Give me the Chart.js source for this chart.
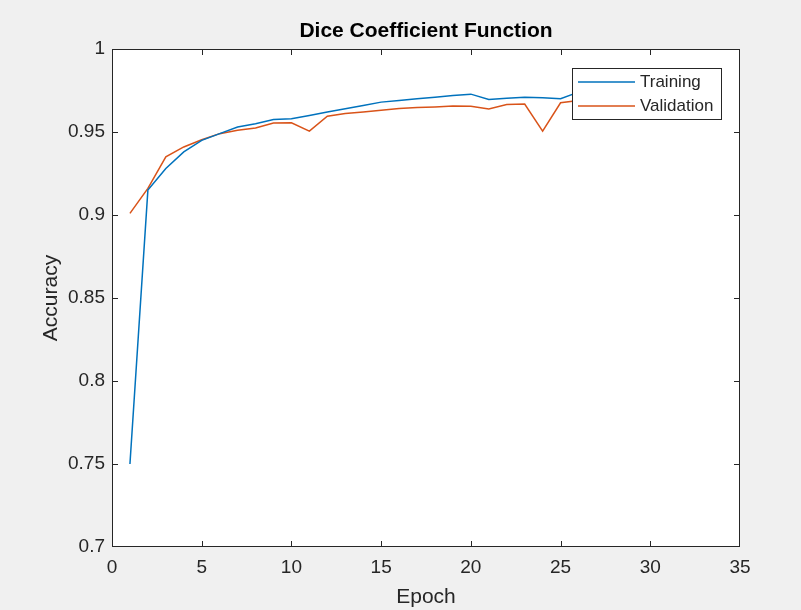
<!DOCTYPE html>
<html>
<head>
<meta charset="utf-8">
<script src="https://cdn.jsdelivr.net/npm/chart.js@4.4.1/dist/chart.umd.min.js"></script>
<style>
  html, body { margin: 0; padding: 0; background: #f0f0f0; }
  canvas { display: block; }
</style>
</head>
<body>
<canvas id="dice" width="801" height="610"></canvas>
<script>
const epochs = [1, 2, 3, 4, 5, 6, 7, 8, 9, 10, 11, 12, 13, 14, 15, 16, 17, 18, 19, 20, 21, 22, 23, 24, 25, 26];
const training = [0.750, 0.915, 0.928, 0.938, 0.945, 0.949, 0.953, 0.955, 0.9575, 0.958, 0.960, 0.962, 0.964,
                  0.966, 0.968, 0.969, 0.970, 0.971, 0.972, 0.9728, 0.9696, 0.9704, 0.971, 0.9706, 0.970, 0.974];
const validation = [0.901, 0.916, 0.935, 0.941, 0.9453, 0.949, 0.951, 0.9524, 0.9554, 0.9556, 0.9505, 0.9595, 0.9611,
                    0.9621, 0.9631, 0.9641, 0.9647, 0.9651, 0.9657, 0.9655, 0.9639, 0.9666, 0.9668, 0.9505, 0.9676, 0.969];
const xTicks = [0, 5, 10, 15, 20, 25, 30, 35];
const yTicks = [0.7, 0.75, 0.8, 0.85, 0.9, 0.95, 1];
const seriesNames = ['Training', 'Validation'];
const seriesColors = ['#0072bd', '#d95319'];

const FONT = "'Liberation Sans', Arial, Helvetica, sans-serif";
const INK = '#262626';

// MATLAB-like figure: grey background, boxed axes with inward ticks, title and legend
const matlabAxes = {
    id: 'matlabAxes',
    beforeDraw(chart) {
        const { ctx, chartArea: a } = chart;
        ctx.save();
        ctx.fillStyle = '#f0f0f0';
        ctx.fillRect(0, 0, chart.width, chart.height);
        ctx.fillStyle = '#ffffff';
        ctx.fillRect(a.left, a.top, a.right - a.left, a.bottom - a.top);
        ctx.restore();
    },
    afterDatasetsDraw(chart) {
        const { ctx, chartArea: a, scales: { x, y } } = chart;
        const tick = 6;
        ctx.save();
        ctx.strokeStyle = INK;
        ctx.lineWidth = 1;
        ctx.strokeRect(a.left + 0.5, a.top + 0.5, a.right - a.left - 1, a.bottom - a.top - 1);
        ctx.beginPath();
        // inner ticks only, the end ones sit on the box itself
        x.ticks.slice(1, -1).forEach(t => {
            const px = Math.round(x.getPixelForValue(t.value)) + 0.5;
            ctx.moveTo(px, a.bottom); ctx.lineTo(px, a.bottom - tick);
            ctx.moveTo(px, a.top); ctx.lineTo(px, a.top + tick);
        });
        y.ticks.slice(1, -1).forEach(t => {
            const py = Math.round(y.getPixelForValue(t.value)) + 0.5;
            ctx.moveTo(a.left, py); ctx.lineTo(a.left + tick, py);
            ctx.moveTo(a.right, py); ctx.lineTo(a.right - tick, py);
        });
        ctx.stroke();

        // title
        ctx.fillStyle = '#000000';
        ctx.font = 'bold 21px ' + FONT;
        ctx.textAlign = 'center';
        ctx.textBaseline = 'middle';
        ctx.fillText('Dice Coefficient Function', (a.left + a.right) / 2, 31);

        // legend
        const bx = a.right - 168, by = a.top + 19, bw = 150, bh = 52;
        ctx.fillStyle = '#ffffff';
        ctx.fillRect(bx, by, bw, bh);
        ctx.strokeStyle = INK;
        ctx.strokeRect(bx + 0.5, by + 0.5, bw - 1, bh - 1);
        ctx.font = '17px ' + FONT;
        ctx.textAlign = 'left';
        seriesNames.forEach((name, i) => {
            const ly = by + 14 + i * 24;
            ctx.strokeStyle = seriesColors[i];
            ctx.lineWidth = 1.5;
            ctx.beginPath();
            ctx.moveTo(bx + 6, ly); ctx.lineTo(bx + 63, ly);
            ctx.stroke();
            ctx.fillStyle = INK;
            ctx.fillText(name, bx + 68, ly);
        });
        ctx.restore();
    }
};

const ctxDice = document.getElementById('dice').getContext('2d');
const diceChart = new Chart(ctxDice, {
    type: 'line',
    data: {
        datasets: [training, validation].map((vals, i) => ({
            label: seriesNames[i],
            data: epochs.map((e, k) => ({ x: e, y: vals[k] })),
            borderColor: seriesColors[i],
            borderWidth: 1.5,
            pointRadius: 0,
            fill: false,
            tension: 0
        }))
    },
    options: {
        responsive: false,
        animation: false,
        layout: { padding: { top: 49, right: 61, left: 0, bottom: 0 } },
        scales: {
            x: {
                type: 'linear',
                min: 0,
                max: 35,
                afterBuildTicks: s => { s.ticks = xTicks.map(v => ({ value: v })); },
                afterFit: s => { s.height = 63; },
                grid: { display: false, drawTicks: false },
                border: { display: false },
                ticks: { color: INK, padding: 9, font: { family: FONT, size: 19 } },
                title: { display: true, text: 'Epoch', color: INK, padding: { top: 0, bottom: 0 }, font: { family: FONT, size: 21 } }
            },
            y: {
                type: 'linear',
                min: 0.7,
                max: 1,
                afterBuildTicks: s => { s.ticks = yTicks.map(v => ({ value: v })); },
                afterFit: s => { s.width = 112; },
                grid: { display: false, drawTicks: false },
                border: { display: false },
                ticks: { color: INK, padding: 7, font: { family: FONT, size: 19 }, callback: v => String(+v.toFixed(2)) },
                title: { display: true, text: 'Accuracy', color: INK, padding: { top: 39, bottom: 0 }, font: { family: FONT, size: 21 } }
            }
        },
        plugins: {
            legend: { display: false },
            tooltip: { enabled: false }
        }
    },
    plugins: [matlabAxes]
});
</script>
</body>
</html>
